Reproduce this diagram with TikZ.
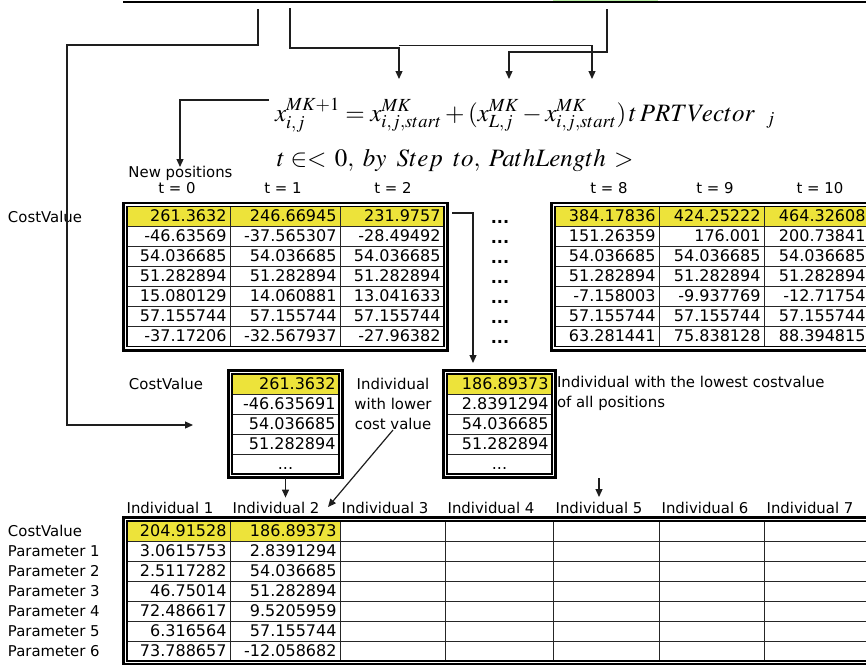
\documentclass[tikz,border=0pt]{standalone}
\usepackage{mathptmx}
\usepackage[no-math]{fontspec}
\newfontfamily\macfont{DejaVu Sans}
\usetikzlibrary{arrows.meta,positioning,fit,calc}
\definecolor{costYellow}{RGB}{237,227,58}
\definecolor{lineDark}{RGB}{30,30,30}
\definecolor{topGreen}{RGB}{185,238,165}
\newcommand{\lblfont}{\macfont\fontsize{14.9}{20}\selectfont}
\newcommand{\cellfont}{\macfont\fontsize{16}{18}\selectfont}
\newcommand{\eqfont}{\fontsize{25}{29}\selectfont}
\newcommand{\tdots}{...}

\begin{document}
\begin{tikzpicture}[x=1pt, y=-1pt,
    every node/.style={inner sep=0pt, outer sep=0pt},
    lbl/.style={font=\lblfont, align=center},
    numCell/.style={draw=black!85, line width=1pt, font=\cellfont, minimum height=20pt, inner xsep=3.5pt, align=right, text height=11.5pt, text depth=1pt},
    costCell/.style={numCell, fill=costYellow},
    dotCell/.style={numCell, align=center},
    innerFrame/.style={draw=black, line width=1.2pt, inner sep=0pt},
    outerFrame/.style={draw=black, line width=2.4pt, inner sep=3.6pt},
    connLine/.style={draw=lineDark, line width=1.2pt},
    connArrow/.style={connLine, -{Triangle[length=8pt, width=7pt]}}
]
\useasboundingbox (0,0) rectangle (866,664);
\clip (0,0) rectangle (866,664);

% Top bar and formula
\fill [topGreen] (553,-1) rectangle (658,1);
\coordinate (topL) at (123,2);
\coordinate (topR) at (870,2);
\draw [line width=2.6pt] (topL) -- (topR);

\node (eqMain) [anchor=base west, font=\eqfont] at (275,121)
  {$x_{i,j}^{MK+1}=x_{i,j,start}^{MK}+(x_{L,j}^{MK}-x_{i,j,start}^{MK})\,t\,PRTVector\;\;{}_j$};
\node (eqRange) [anchor=base west, font=\eqfont] at (277,166)
  {$t\in<\,0,\; by\ \,Step\ \,to,\; PathLength\,>$};

% Positions along the path
\node (newPos) [lbl] at (180.5,173) {New positions};
\foreach \x/\t in {177/0,283/1,393/2,609/8,715/9,820/10}
  \node (tLbl-\t) [lbl] at (\x,188) {t = \t};
\node (costA) [lbl, anchor=west] at (8,216.7) {CostValue};

\foreach \s/\a/\b/\c [count=\r] in {
    costCell/261.3632/246.66945/231.9757,
    numCell/-46.63569/-37.565307/-28.49492,
    numCell/54.036685/54.036685/54.036685,
    numCell/51.282894/51.282894/51.282894,
    numCell/15.080129/14.060881/13.041633,
    numCell/57.155744/57.155744/57.155744,
    numCell/-37.17206/-32.567937/-27.96382}{
  \node (tA-\r-1) [\s, text width=96pt] at (178.5,196.7+20*\r) {\a};
  \node (tA-\r-2) [\s, text width=103pt] at (285,196.7+20*\r) {\b};
  \node (tA-\r-3) [\s, text width=97pt] at (392,196.7+20*\r) {\c};
  \node (gap-\r) [font=\cellfont\bfseries] at (500,202+20*\r) {\tdots};
}
\node (tAin) [innerFrame, fit=(tA-1-1)(tA-7-3)] {};
\node (tAout) [outerFrame, fit=(tA-1-1)(tA-7-3)] {};

\foreach \s/\a/\b/\c [count=\r] in {
    costCell/384.17836/424.25222/464.32608,
    numCell/151.26359/176.001/200.73841,
    numCell/54.036685/54.036685/54.036685,
    numCell/51.282894/51.282894/51.282894,
    numCell/-7.158003/-9.937769/-12.71754,
    numCell/57.155744/57.155744/57.155744,
    numCell/63.281441/75.838128/88.394815}{
  \node (tB-\r-1) [\s, text width=97pt] at (607,196.7+20*\r) {\a};
  \node (tB-\r-2) [\s, text width=98pt] at (711.5,196.7+20*\r) {\b};
  \node (tB-\r-3) [\s, text width=98pt] at (816.5,196.7+20*\r) {\c};
}
\node (tBin) [innerFrame, fit=(tB-1-1)(tB-7-3)] {};
\node (tBout) [outerFrame, fit=(tB-1-1)(tB-7-3)] {};

% Selected individuals
\node (costC) [lbl] at (166,384) {CostValue};
\foreach \s/\v [count=\r] in {costCell/261.3632, numCell/-46.635691, numCell/54.036685, numCell/51.282894, dotCell/\tdots}
  \node (tC-\r) [\s, text width=100pt] at (285.5,364+20*\r) {\v};
\node (tCin) [innerFrame, fit=(tC-1)(tC-5)] {};
\node (tCout) [outerFrame, fit=(tC-1)(tC-5)] {};

\node (lowerTxt) [lbl] at (393,404) {Individual\\with lower\\cost value};

\foreach \s/\v [count=\r] in {costCell/186.89373, numCell/2.8391294, numCell/54.036685, numCell/51.282894, dotCell/\tdots}
  \node (tD-\r) [\s, text width=98pt] at (499.5,364+20*\r) {\v};
\node (tDin) [innerFrame, fit=(tD-1)(tD-5)] {};
\node (tDout) [outerFrame, fit=(tD-1)(tD-5)] {};

\node (lowestTxt) [lbl, align=left, anchor=north west] at (557,376)
  {Individual with the lowest costvalue\\of all positions};

% Population table
\foreach \x [count=\k] in {170,276,385,491,599,705,810}
  \node (colLbl-\k) [lbl] at (\x,508) {Individual \k};

\foreach \s/\t/\a/\b [count=\r] in {
    costCell/CostValue/204.91528/186.89373,
    numCell/Parameter 1/3.0615753/2.8391294,
    numCell/Parameter 2/2.5117282/54.036685,
    numCell/Parameter 3/46.75014/51.282894,
    numCell/Parameter 4/72.486617/9.5205959,
    numCell/Parameter 5/6.316564/57.155744,
    numCell/Parameter 6/73.788657/-12.058682}{
  \node (rowLbl-\r) [lbl, anchor=west] at (8,511+20*\r) {\t};
  \node (tE-\r-1) [\s, text width=96pt] at (178.5,511+20*\r) {\a};
  \node (tE-\r-2) [\s, text width=103pt] at (285,511+20*\r) {\b};
  \foreach \x/\w [count=\k from 3] in {392.5/105,499/108,606/106,711.5/105,816.5/105}
    \node (tE-\r-\k) [numCell, minimum width=\w pt] at (\x,511+20*\r) {};
}
\node (tEin) [innerFrame, fit=(tE-1-1)(tE-7-7)] {};
\node (tEout) [outerFrame, fit=(tE-1-1)(tE-7-7)] {};

% Connectors
\coordinate (srcA) at (258,9);
\coordinate (srcB) at (290,8);
\coordinate (srcC) at (607,9);
\coordinate (splitD) at (399,45.5);
\coordinate (tipB) at (399,79);
\coordinate (tipC) at (509,79);
\coordinate (tipD) at (592,79);
\coordinate (eqTail) at (269,100);
\coordinate (tipE) at (180,167);
\coordinate (tipCIn) at (193,425);
\coordinate (bestTail) at (452,213);
\coordinate (tipBest) at (473,363);
\coordinate (lowerTail) at (393,430);
\coordinate (lowerTip) at (328,507);
\coordinate (markTail) at (599,478);
\coordinate (markTip) at (599,497);

\draw [connArrow] (srcA) |- (67,45) |- (tipCIn);
\draw [connArrow] (srcB) -- (290,48) -| (tipB);
\draw [connArrow] (splitD) -| (tipD);
\draw [connArrow] (srcC) -- (607,52) -| (tipC);
\draw [connArrow] (eqTail) -| (tipE);
\draw [connArrow] (bestTail) -| (tipBest);
\draw [connArrow] (tCout.south) -- ++(0,20);
\draw [connArrow] (lowerTail) -- (lowerTip);
\draw [connArrow] (markTail) -- (markTip);

\end{tikzpicture}
\end{document}
